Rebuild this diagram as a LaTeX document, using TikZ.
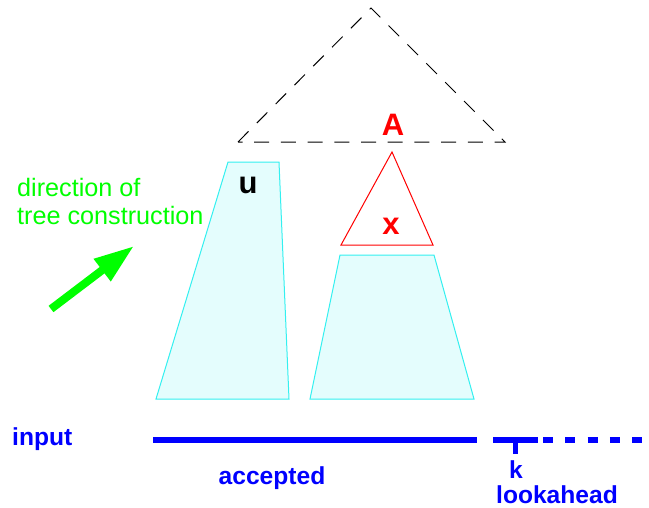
\documentclass[tikz,border=0pt]{standalone}
\usepackage{fontspec}
\setmainfont{Liberation Sans}
\usetikzlibrary{arrows.meta}
\definecolor{tfill}{HTML}{E4FDFD}
\definecolor{tline}{HTML}{33F0F0}
\tikzset{
  lbl/.style={font=\fontsize{25.2}{28}\selectfont, inner sep=0pt},
  blbl/.style={font=\bfseries\fontsize{24.6}{28}\selectfont, inner sep=0pt, text=blue},
  big/.style={font=\bfseries\fontsize{31}{34}\selectfont, inner sep=0pt},
  trap/.style={fill=tfill, draw=tline, line width=1pt, line join=miter},
  inp/.style={draw=blue, line width=6pt},
}
\begin{document}
\begin{tikzpicture}[x=1pt,y=-1pt]
\useasboundingbox (0,0) rectangle (649,507);
% dashed parent triangle
\coordinate (dtA) at (371,8);
\coordinate (dtL) at (238,142);
\coordinate (dtR) at (505,142);
\draw[black, line width=1pt, dash pattern=on 15pt off 11.7pt] (dtL) -- (dtA) -- (dtR) -- cycle;
% left trapezoid
\coordinate (l1) at (228,162);
\coordinate (l2) at (279,162);
\coordinate (l3) at (289,399);
\coordinate (l4) at (156,399);
\draw[trap] (l1) -- (l2) -- (l3) -- (l4) -- cycle;
% right trapezoid
\coordinate (r1) at (340,255);
\coordinate (r2) at (434,255);
\coordinate (r3) at (474,399);
\coordinate (r4) at (310,399);
\draw[trap] (r1) -- (r2) -- (r3) -- (r4) -- cycle;
% red triangle
\coordinate (xA) at (392,152);
\coordinate (xL) at (341,245);
\coordinate (xR) at (433,245);
\draw[red, line width=1pt] (xL) -- (xA) -- (xR) -- cycle;
% letters
\node[big, text=red] (A) at (393,125) {A};
\node[big, text=red] (x) at (391,226) {x};
\node[big, text=black, anchor=base] (u) at (248,193) {u};
% green text and arrow
\node[lbl, text=green, align=left, anchor=base west] (dir) at (17,224) {direction of\\tree construction};
\coordinate (gT) at (51,309);
\coordinate (gH) at (134,246);
\draw[green, line width=8pt, -{Triangle[length=40pt,width=26pt]}] (gT) -- (gH);
% input line
\node[blbl, anchor=base west] (input) at (12,445) {input};
\coordinate (i1) at (153,440);
\coordinate (i2) at (477,440);
\coordinate (i3) at (493,440);
\coordinate (i4) at (538,440);
\coordinate (i5) at (543,440);
\coordinate (i6) at (643,440);
\coordinate (t1) at (515,440);
\coordinate (t2) at (515,454);
\draw[inp] (i1) -- (i2);
\draw[inp] (i3) -- (i4);
\draw[inp, dash pattern=on 10pt off 12.3pt] (i5) -- (i6);
\draw[draw=blue, line width=5pt] (t1) -- (t2);
\node[blbl, anchor=base] (acc) at (272,484) {accepted};
\node[blbl, anchor=base] (k) at (516,478) {k};
\node[blbl, anchor=base] (look) at (557,503) {lookahead};
\end{tikzpicture}
\end{document}
